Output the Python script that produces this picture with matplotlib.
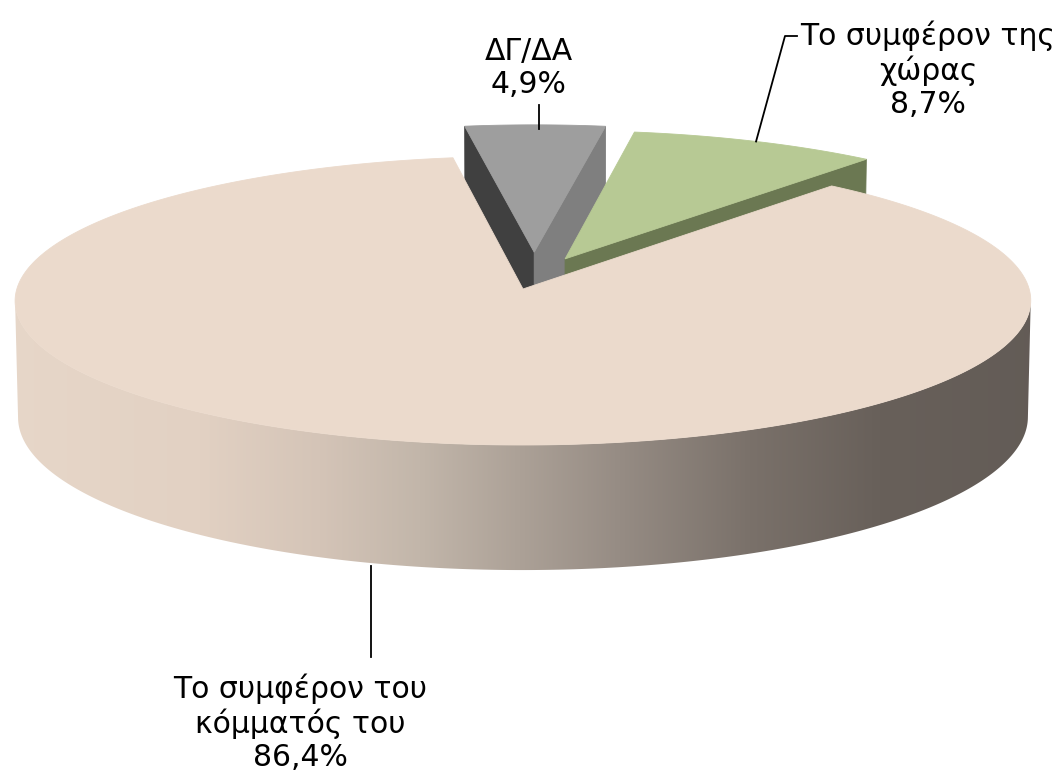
import numpy as np
import matplotlib
matplotlib.use("Agg")
import matplotlib.pyplot as plt
from matplotlib.patches import Polygon

# ---------------- data ----------------
categories = ["ΔΓ/ΔΑ", "Το συμφέρον της\nχώρας", "Το συμφέρον του\nκόμματός του"]
values = [4.9, 8.7, 86.4]

# ---------------- style / geometry ----------------
explode = [0.185, 0.15, 0.08]
top_colors = ["#9E9E9E", "#B7C994", "#EBDACC"]
start_wall_colors = ["#404040", "#6B7852", "#C9B8AA"]
end_wall_colors = ["#7F7F7F", "#6B7852", "#C9B8AA"]
start_angle = -8.7          # degrees, clockwise from the back (12 o'clock)
# rim gradient (screen x -> colour) for the big slice side
grad_x = [0, 200, 320, 420, 520, 620, 750, 880, 1060]
grad_rgb = [(231, 215, 201), (226, 209, 195), (212, 196, 183), (194, 182, 170),
            (172, 161, 151), (150, 140, 132), (122, 113, 106), (104, 96, 90),
            (98, 91, 86)]

# camera / projection
CX, CY = 534.0, 278.0
S = 503.0
ELEV = np.radians(16.35)
DIST = 11.89
H = 0.24
ca, sa = np.cos(ELEV), np.sin(ELEV)
CAM = np.array([0.0, -DIST * ca, DIST * sa])


def proj(X, Y, Z):
    X = np.asarray(X, float); Y = np.asarray(Y, float); Z = np.asarray(Z, float)
    depth = DIST + Y * ca - Z * sa
    f = DIST / depth
    return CX + S * X * f, CY - S * (Y * sa + Z * ca) * f


fig = plt.figure(figsize=(10.6, 7.75), dpi=100)
ax = fig.add_axes([0, 0, 1, 1])
ax.set_xlim(0, 1060)
ax.set_ylim(775, 0)
ax.axis("off")

total = float(sum(values))
spans = [v / total * 360.0 for v in values]
starts = start_angle + np.concatenate([[0], np.cumsum(spans)[:-1]])

slices = []
for i, (t0, sp) in enumerate(zip(starts, spans)):
    t1 = t0 + sp
    m = np.radians(t0 + sp / 2)
    off = explode[i] * np.array([np.sin(m), np.cos(m)])
    slices.append(dict(i=i, t0=t0, t1=t1, m=m, off=off))

# back-to-front ordering
slices.sort(key=lambda d: -(d["off"][1] + 0.5 * np.cos(d["m"])))

for sl in slices:
    i, t0, t1, off = sl["i"], sl["t0"], sl["t1"], sl["off"]
    n = max(int((t1 - t0) * 3), 20)
    phi = np.radians(np.linspace(t0, t1, n))
    rx = off[0] + np.sin(phi)
    ry = off[1] + np.cos(phi)

    # radial walls
    for tt, sign, col in ((t0, -1, start_wall_colors[i]), (t1, 1, end_wall_colors[i])):
        tr = np.radians(tt)
        nrm = np.array([np.sin(tr + sign * np.pi / 2), np.cos(tr + sign * np.pi / 2), 0])
        pm = np.array([off[0] + 0.5 * np.sin(tr), off[1] + 0.5 * np.cos(tr), -H / 2])
        if np.dot(nrm, CAM - pm) > 0:
            X = [off[0], off[0] + np.sin(tr), off[0] + np.sin(tr), off[0]]
            Y = [off[1], off[1] + np.cos(tr), off[1] + np.cos(tr), off[1]]
            Z = [0, 0, -H, -H]
            px, py = proj(X, Y, Z)
            ax.add_patch(Polygon(np.column_stack([px, py]), closed=True,
                                 facecolor=col, edgecolor=col, lw=0.6, zorder=2))

    # outer rim (only the part facing the camera)
    vis = []
    for k in range(n):
        nrm = np.array([np.sin(phi[k]), np.cos(phi[k]), 0])
        p = np.array([rx[k], ry[k], -H / 2])
        vis.append(np.dot(nrm, CAM - p) > 0)
    vis = np.array(vis)
    if vis.any():
        idx = np.where(vis)[0]
        a0, a1 = idx[0], idx[-1]
        ph = np.radians(np.linspace(np.degrees(phi[a0]), np.degrees(phi[a1]), 400))
        X = off[0] + np.sin(ph)
        Y = off[1] + np.cos(ph)
        tx, ty = proj(X, Y, np.zeros_like(X))
        bx, by = proj(X, Y, np.full_like(X, -H))
        poly = np.column_stack([np.concatenate([tx, bx[::-1]]),
                                np.concatenate([ty, by[::-1]])])
        patch = Polygon(poly, closed=True, facecolor="none", edgecolor="none", zorder=2)
        ax.add_patch(patch)
        xs = np.arange(0, 1061)
        img = np.zeros((2, xs.size, 3))
        for c in range(3):
            img[:, :, c] = np.interp(xs, grad_x, [g[c] for g in grad_rgb]) / 255.0
        im = ax.imshow(img, extent=(0, 1060, 775, 0), aspect="auto",
                       interpolation="bilinear", zorder=2)
        im.set_clip_path(patch)

    # top face
    px, py = proj(np.concatenate([[off[0]], rx]), np.concatenate([[off[1]], ry]),
                  np.zeros(n + 1))
    ax.add_patch(Polygon(np.column_stack([px, py]), closed=True,
                         facecolor=top_colors[i], edgecolor=top_colors[i], lw=0.6,
                         zorder=2))
    sl["mid_top"] = proj(off[0] + np.sin(sl["m"]), off[1] + np.cos(sl["m"]), 0.0)
    sl["mid_bot"] = proj(off[0] + np.sin(sl["m"]), off[1] + np.cos(sl["m"]), -H)

ax.set_xlim(0, 1060)
ax.set_ylim(775, 0)

by_i = {sl["i"]: sl for sl in slices}
pct = [f"{v:.1f}".replace(".", ",") + "%" for v in values]
fs = 21.5
txt_kw = dict(fontsize=fs, family="DejaVu Sans", color="black", ha="center",
              va="baseline", multialignment="center", linespacing=1.18, zorder=5)

# ΔΓ/ΔΑ
ax_, ay_ = by_i[0]["mid_top"]
ax.plot([float(ax_) + 4, float(ax_) + 4], [float(ay_) + 4, 105], color="black",
        lw=1.3, zorder=4)
ax.text(529, 93, categories[0] + "\n" + pct[0], **txt_kw)

# country
gx, gy = by_i[1]["mid_top"]
ax.plot([float(gx), 785, 797], [float(gy), 36, 36], color="black", lw=1.3, zorder=4)
ax.text(928, 113, categories[1] + "\n" + pct[1], **txt_kw)

# party
bx_, by_ = by_i[2]["mid_bot"]
ax.plot([float(bx_) - 3, float(bx_) - 3], [float(by_) + 3, 657], color="black",
        lw=1.3, zorder=4)
ax.text(300, 766, categories[2] + "\n" + pct[2], **txt_kw)

fig.savefig("out.png", dpi=100)
